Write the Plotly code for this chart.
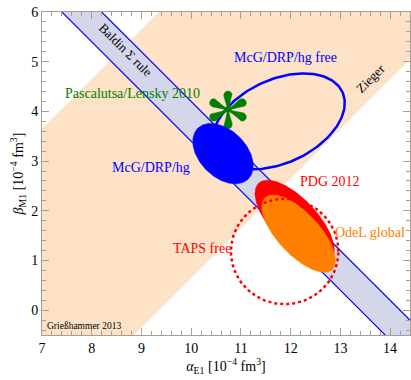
import numpy as np
import plotly.graph_objects as go

# ---- data (units: 10^-4 fm^3) ----
baldin_sum = 13.8          # alpha + beta
baldin_err = 0.4
zieger_diff = 6.35         # alpha - beta
zieger_err = 3.0

# ellipses: center alpha, center beta, semi-major, semi-minor, angle (deg)
mcg_fit = [10.64, 3.15, 0.72, 0.47, -45.0]
mcg_free = [11.76, 3.80, 1.41, 0.84, 24.7]
pdg_2012 = [12.08, 1.78, 1.06, 0.46, -47.0]
odel_global = [12.16, 1.54, 0.99, 0.42, -47.0]
taps_free = [11.88, 1.18, 1.08, 1.06, 0.0]

# Pascalutsa/Lensky point and its arm extents
pl_center = [10.74, 4.03]
pl_arms_dalpha = [0.0, 0.36, 0.36, 0.0, -0.36, -0.36]
pl_arms_dbeta = [0.38, 0.18, -0.18, -0.38, -0.18, 0.18]

x_ticks = [7, 8, 9, 10, 11, 12, 13, 14]
y_ticks = [0, 1, 2, 3, 4, 5, 6]

labels = ["Baldin Σ rule", "Zieger", "McG/DRP/hg free", "Pascalutsa/Lensky 2010",
          "McG/DRP/hg", "PDG 2012", "OdeL global", "TAPS free", "Grießhammer 2013"]

BLUE = "#0000ff"
RED = "#ff0000"
ORANGE = "#ff8000"
GREEN = "#008000"
PEACH = "#fde2c8"
LAV = "#d4d7ec"
FRAME = "#a89f94"
SERIF = "Liberation Serif"


def ellipse(p, n=200):
    ca, cb, a, b, ang = p
    t = np.linspace(0, 2 * np.pi, n)
    th = np.deg2rad(ang)
    x = ca + a * np.cos(th) * np.cos(t) - b * np.sin(th) * np.sin(t)
    y = cb + a * np.sin(th) * np.cos(t) + b * np.cos(th) * np.sin(t)
    return x, y


def teardrop(cx, cy, dx, dy, r, n=40):
    L = np.hypot(dx, dy)
    u = np.arctan2(dy, dx)
    d = L - r
    ccx, ccy = cx + d * np.cos(u), cy + d * np.sin(u)
    half = np.pi - np.arccos(min(r / d, 0.99))
    ang = np.linspace(u - half, u + half, n)
    xs = np.concatenate([[cx], ccx + r * np.cos(ang), [cx]])
    ys = np.concatenate([[cy], ccy + r * np.sin(ang), [cy]])
    return xs, ys


fig = go.Figure()

# Zieger band (alpha - beta)
xa = np.array([4.0, 18.0])
lo = zieger_diff - zieger_err
hi = zieger_diff + zieger_err
fig.add_trace(go.Scatter(x=[xa[0], xa[1], xa[1], xa[0], xa[0]],
                         y=[xa[0] - lo, xa[1] - lo, xa[1] - hi, xa[0] - hi, xa[0] - lo],
                         fill="toself", fillcolor=PEACH, line=dict(width=0),
                         mode="lines", hoverinfo="skip"))

# Baldin band (alpha + beta)
s_lo = baldin_sum - baldin_err
s_hi = baldin_sum + baldin_err
fig.add_trace(go.Scatter(x=[xa[0], xa[1], xa[1], xa[0], xa[0]],
                         y=[s_lo - xa[0], s_lo - xa[1], s_hi - xa[1], s_hi - xa[0], s_lo - xa[0]],
                         fill="toself", fillcolor=LAV, line=dict(width=0),
                         mode="lines", hoverinfo="skip"))
for s in (s_lo, s_hi):
    fig.add_trace(go.Scatter(x=list(xa), y=[s - xa[0], s - xa[1]], mode="lines",
                             line=dict(color=BLUE, width=1.2), hoverinfo="skip"))

# McG free outline
ex, ey = ellipse(mcg_free)
fig.add_trace(go.Scatter(x=ex, y=ey, mode="lines", line=dict(color=BLUE, width=2.5),
                         hoverinfo="skip"))

# Pascalutsa/Lensky asterisk (six teardrop lobes)
for da, db in zip(pl_arms_dalpha, pl_arms_dbeta):
    tx, ty = teardrop(pl_center[0], pl_center[1], da, db, 0.085)
    fig.add_trace(go.Scatter(x=tx, y=ty, mode="lines", fill="toself", fillcolor=GREEN,
                             line=dict(color=GREEN, width=0.5), hoverinfo="skip"))
    fig.add_trace(go.Scatter(x=[pl_center[0], pl_center[0] + 0.8 * da],
                             y=[pl_center[1], pl_center[1] + 0.8 * db],
                             mode="lines", line=dict(color=GREEN, width=2.5), hoverinfo="skip"))

# filled ellipses
for p, col in ((mcg_fit, BLUE), (pdg_2012, RED), (odel_global, ORANGE)):
    ex, ey = ellipse(p)
    fig.add_trace(go.Scatter(x=ex, y=ey, mode="lines", fill="toself", fillcolor=col,
                             line=dict(color=col, width=0.5), hoverinfo="skip"))

# TAPS free dotted circle
ex, ey = ellipse(taps_free)
fig.add_trace(go.Scatter(x=ex, y=ey, mode="lines", line=dict(color=RED, width=2.5, dash="dot"),
                         hoverinfo="skip"))

# labels
ann = [
    (labels[0], 8.67, 5.24, "black", 13, 45),
    (labels[1], 13.60, 4.67, "black", 13, -45),
    (labels[2], 11.89, 5.09, BLUE, 14, 0),
    (labels[3], 8.81, 4.37, GREEN, 14, 0),
    (labels[4], 9.19, 2.88, BLUE, 14, 0),
    (labels[5], 12.79, 2.58, RED, 14, 0),
    (labels[6], 13.60, 1.57, ORANGE, 14, 0),
    (labels[7], 10.22, 1.25, RED, 14, 0),
    (labels[8], 7.84, -0.32, "black", 9.5, 0),
]
for txt, ax_, ay_, col, sz, ang in ann:
    fig.add_annotation(x=ax_, y=ay_, text=txt, showarrow=False, textangle=ang,
                       font=dict(family=SERIF, size=sz, color=col))

axis_common = dict(showgrid=False, zeroline=False, showline=True, linecolor=FRAME, linewidth=1,
                   mirror="allticks", ticks="inside", ticklen=7, tickcolor=FRAME,
                   tickfont=dict(family=SERIF, size=14, color="black"),
                   minor=dict(ticks="inside", ticklen=4, tickcolor=FRAME, dtick=0.2))

fig.update_xaxes(range=[7, 14.4], tickvals=x_ticks, **axis_common,
                 title=dict(text="<i>α</i><sub>E1</sub> [10<sup>−4</sup> fm<sup>3</sup>]",
                            font=dict(family=SERIF, size=14, color="black"),
                            standoff=2))
fig.update_yaxes(range=[-0.5, 6], tickvals=y_ticks, **axis_common,
                 title=dict(text="<i>β</i><sub>M1</sub> [10<sup>−4</sup> fm<sup>3</sup>]",
                            font=dict(family=SERIF, size=14, color="black"),
                            standoff=4))

fig.update_layout(width=411, height=380, margin=dict(l=42, r=1, t=12, b=45),
                  plot_bgcolor="white", paper_bgcolor="white", showlegend=False,
                  hovermode=False)

fig.write_html("out.html", config={"displayModeBar": False},
               post_script="document.body.style.margin='0';document.body.style.overflow='hidden';")
